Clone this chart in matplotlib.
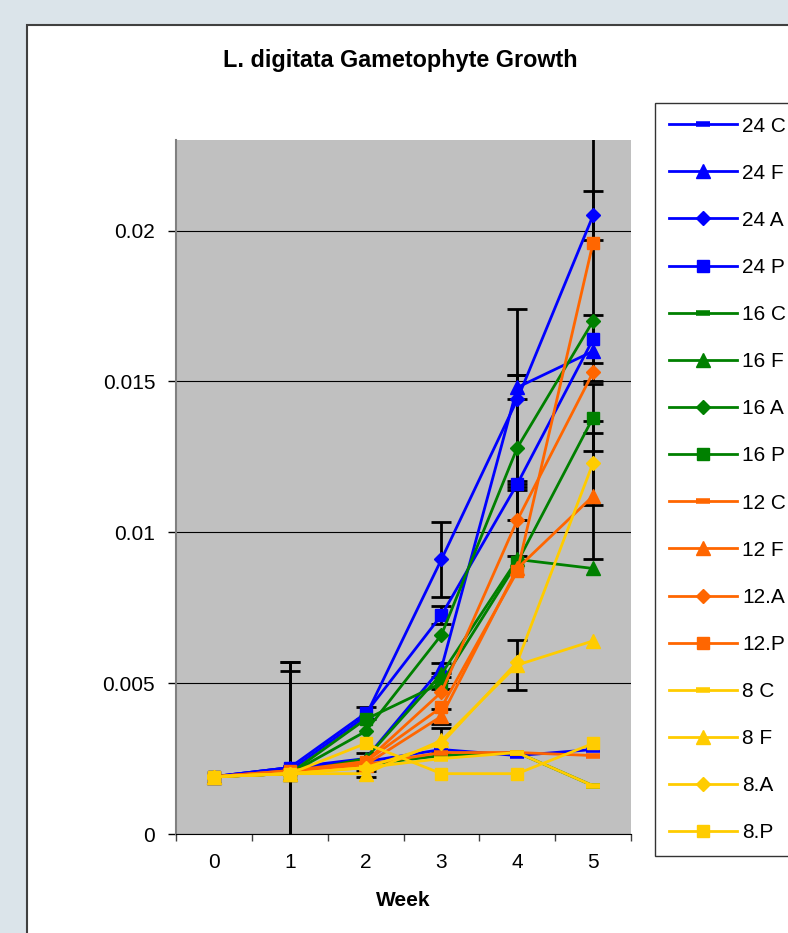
import numpy as np
import matplotlib.pyplot as plt
from matplotlib.patches import Rectangle

plt.rcParams['font.family'] = ['Liberation Sans', 'DejaVu Sans']

weeks = [0, 1, 2, 3, 4, 5]
series_labels = ["24 C", "24 F", "24 A", "24 P",
                 "16 C", "16 F", "16 A", "16 P",
                 "12 C", "12 F", "12.A", "12.P",
                 "8 C", "8 F", "8.A", "8.P"]

# mean growth per week, one row per series (same order as labels)
growth = [
    [0.0019, 0.0022, 0.0024, 0.0028, 0.0026, 0.0028],   # 24 C
    [0.0019, 0.0022, 0.0025, 0.0055, 0.0148, 0.0160],   # 24 F
    [0.0019, 0.0021, 0.0039, 0.0091, 0.0144, 0.0205],   # 24 A
    [0.0019, 0.0022, 0.0040, 0.00725, 0.0116, 0.0164],  # 24 P
    [0.0019, 0.0020, 0.0023, 0.0026, 0.0027, 0.0016],   # 16 C
    [0.0019, 0.0020, 0.0025, 0.0053, 0.0091, 0.0088],   # 16 F
    [0.0019, 0.0020, 0.0034, 0.0066, 0.0128, 0.0170],   # 16 A
    [0.0019, 0.0020, 0.0038, 0.0050, 0.0090, 0.0138],   # 16 P
    [0.0019, 0.0021, 0.0023, 0.0027, 0.0027, 0.0026],   # 12 C
    [0.0019, 0.0020, 0.0023, 0.0039, 0.0088, 0.0112],   # 12 F
    [0.0019, 0.0020, 0.0024, 0.0047, 0.0104, 0.0153],   # 12.A
    [0.0019, 0.0021, 0.0024, 0.0042, 0.0087, 0.0196],   # 12.P
    [0.0019, 0.0020, 0.0022, 0.0025, 0.0027, 0.0016],   # 8 C
    [0.0019, 0.0020, 0.0020, 0.0031, 0.0056, 0.0064],   # 8 F
    [0.0019, 0.0020, 0.0022, 0.0030, 0.0057, 0.0123],   # 8.A
    [0.0019, 0.0020, 0.0030, 0.0020, 0.0020, 0.0030],   # 8.P
]

# +/- error per week (0 = no bar drawn)
errors = [
    [0, 0.0035, 0, 0, 0, 0],
    [0, 0, 0, 0.00017, 0.0004, 0],
    [0, 0, 0, 0.00125, 0.0030, 0.0008],
    [0, 0, 0.0002, 0.0003, 0.0001, 0.0008],
    [0, 0.0037, 0, 0, 0, 0],
    [0, 0, 0.0002, 0, 0, 0],
    [0, 0, 0, 0, 0.0024, 0],
    [0, 0, 0, 0.0002, 0, 0.0011],
    [0, 0.0033, 0, 0, 0, 0],
    [0, 0, 0, 0.00025, 0, 0.0021],
    [0, 0, 0, 0, 0.0012, 0],
    [0, 0, 0, 0, 0, 0.0046],
    [0, 0, 0, 0, 0, 0],
    [0, 0, 0.0001, 0.0004, 0.00083, 0],
    [0, 0, 0, 0, 0, 0.0014],
    [0, 0, 0, 0, 0, 0],
]

group_colors = ["#0000FF", "#008000", "#FF6600", "#FFCC00"]
treat_markers = ["_", "^", "D", "s"]
treat_sizes = [10, 10, 7, 9]

fig = plt.figure(figsize=(7.88, 9.33), dpi=100)
fig.patch.set_facecolor("#dbe4ea")
fig.patches.append(Rectangle((27 / 788, -0.05), 1.1, 1 - 25 / 933 + 0.05,
                             transform=fig.transFigure, facecolor="white",
                             edgecolor="#404040", lw=1.5, zorder=-5))

ax = fig.add_axes([176 / 788, 1 - 834 / 933, 455 / 788, 694 / 933])
ax.set_facecolor("#C0C0C0")

handles = []
for i, lab in enumerate(series_labels):
    col = group_colors[i // 4]
    mk = treat_markers[i % 4]
    ms = treat_sizes[i % 4]
    vals = growth[i]
    err = errors[i]
    idx = [k for k in range(len(weeks)) if err[k] > 0]
    if idx:
        ax.errorbar([weeks[k] for k in idx], [vals[k] for k in idx],
                    yerr=[err[k] for k in idx], fmt="none", ecolor="black",
                    elinewidth=2, capsize=7, capthick=2, zorder=2)
    (h,) = ax.plot(weeks, vals, color=col, marker=mk, ms=ms, lw=2,
                   mew=4 if mk == "_" else 1, mec=col, mfc=col,
                   label=lab, zorder=3)
    handles.append(h)

ax.set_xlim(-0.5, 5.5)
ax.set_ylim(0, 0.023)
ax.set_yticks([0, 0.005, 0.01, 0.015, 0.02])
ax.set_yticklabels(["0", "0.005", "0.01", "0.015", "0.02"])
ax.set_xticks(weeks)
ax.set_xticks(np.arange(-0.5, 5.6, 1), minor=True)
ax.tick_params(axis="x", which="major", length=0, pad=14, labelsize=15)
ax.tick_params(axis="x", which="minor", length=5, width=1, color="#404040")
ax.tick_params(axis="y", length=6, width=1, pad=9, labelsize=15)
ax.grid(axis="y", color="black", lw=0.8)
ax.set_axisbelow(True)
for s in ["top", "right"]:
    ax.spines[s].set_visible(False)
ax.spines["left"].set_color("#808080")
ax.spines["left"].set_linewidth(1.5)
ax.spines["bottom"].set_color("black")

ax.set_xlabel("Week", fontsize=15, fontweight="bold", labelpad=13)
fig.text(400 / 788, 1 - 61 / 933, "L. digitata Gametophyte Growth",
         ha="center", va="center", fontsize=16.8, fontweight="bold")

leg = fig.legend(handles=handles, loc="upper left",
                 bbox_to_anchor=(655 / 788, 1 - 103 / 933), fontsize=15,
                 frameon=True, fancybox=False, edgecolor="black",
                 handlelength=3.3, handletextpad=0.25, borderpad=0.65,
                 labelspacing=1.35, borderaxespad=0)
leg.get_frame().set_linewidth(1)

plt.savefig("out.png", dpi=100)
